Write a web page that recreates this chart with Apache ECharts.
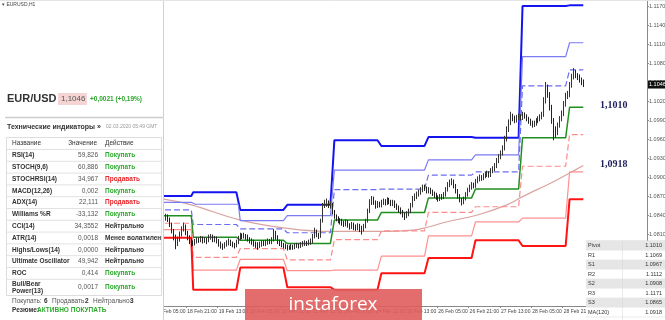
<!DOCTYPE html>
<html><head><meta charset="utf-8">
<script src="https://cdn.jsdelivr.net/npm/echarts@6/dist/echarts.min.js"></script>
<style>html,body{margin:0;padding:0;background:#fff}#c{width:665px;height:320px}</style>
</head><body><div id="c"></div>
<script>
// ---------- DATA ----------
const dayNames = ['18 Feb','19 Feb','20 Feb','21 Feb','24 Feb','25 Feb','26 Feb','27 Feb','28 Feb','2 Mar'];
const dayFirstHour = [5,0,0,0,0,0,0,0,0,0];
const dayLastHour  = [23,23,23,23,23,23,23,23,23,7];
const futureSlots = 32;

// daily pivot levels (one value per day)
const R3 = [1.0870,1.0876,1.0848,1.0856,1.0958,1.0949,1.0963,1.0962,1.1170,1.1171];
const R2 = [1.0860,1.0857,1.0831,1.0839,1.0911,1.0911,1.0927,1.0935,1.1090,1.1112];
const R1 = [1.0848,1.0825,1.0818,1.0812,1.0880,1.0881,1.0903,1.0908,1.1044,1.1069];
const PP = [1.0839,1.0805,1.0800,1.0795,1.0832,1.0844,1.0867,1.0881,1.0962,1.1010];
const S1 = [1.0827,1.0773,1.0787,1.0769,1.0801,1.0815,1.0844,1.0853,1.0917,1.0967];
const S2 = [1.0817,1.0753,1.0770,1.0752,1.0753,1.0775,1.0807,1.0829,1.0835,1.0908];
const S3 = [1.0804,1.0722,1.0757,1.0726,1.0722,1.0748,1.0772,1.0800,1.0791,1.0865];

// MA(120) read at some bars
const maIdx = [4,18,43,67,90,114,131,139,148,164,179,187,203,212,218];
const maVal = [1.0865,1.0856,1.0832,1.0819,1.0814,1.0814,1.0816,1.0821,1.0829,1.0840,1.0856,1.0869,1.0893,1.0908,1.0918];

const yTicks = [1.0720,1.0750,1.0780,1.0810,1.0840,1.0870,1.0900,1.0930,1.0960,1.0990,1.1020,1.1050,1.1080,1.1110,1.1140,1.1170];
const lastPrice = 1.1046;

// candles: [open, close, low, high]
const candles = [
[1.0837,1.0838,1.0833,1.0842],[1.0838,1.0840,1.0835,1.0844],[1.0840,1.0836,1.0832,1.0843],[1.0836,1.0837,1.0832,1.0841],
[1.0837,1.0835,1.0830,1.0840],[1.0835,1.0838,1.0831,1.0842],[1.0838,1.0833,1.0829,1.0841],[1.0833,1.0825,1.0821,1.0836],
[1.0825,1.0815,1.0811,1.0828],[1.0815,1.0806,1.0800,1.0818],[1.0806,1.0795,1.0786,1.0809],[1.0795,1.0802,1.0791,1.0806],
[1.0802,1.0810,1.0798,1.0814],[1.0810,1.0818,1.0806,1.0822],[1.0818,1.0822,1.0814,1.0828],[1.0822,1.0812,1.0808,1.0825],
[1.0812,1.0805,1.0800,1.0815],[1.0805,1.0800,1.0794,1.0808],[1.0800,1.0797,1.0790,1.0803],[1.0797,1.0795,1.0791,1.0800],
[1.0795,1.0798,1.0792,1.0802],[1.0798,1.0801,1.0795,1.0805],[1.0801,1.0800,1.0796,1.0804],[1.0800,1.0803,1.0797,1.0807],
[1.0803,1.0799,1.0795,1.0806],[1.0799,1.0801,1.0796,1.0805],[1.0801,1.0799,1.0794,1.0804],[1.0799,1.0804,1.0797,1.0809],
[1.0804,1.0806,1.0801,1.0810],[1.0806,1.0801,1.0797,1.0809],[1.0801,1.0803,1.0797,1.0807],[1.0803,1.0799,1.0795,1.0806],
[1.0799,1.0795,1.0790,1.0802],[1.0795,1.0792,1.0787,1.0798],[1.0792,1.0790,1.0785,1.0795],[1.0790,1.0793,1.0787,1.0797],
[1.0793,1.0796,1.0790,1.0800],[1.0796,1.0798,1.0792,1.0803],[1.0798,1.0795,1.0791,1.0801],[1.0795,1.0793,1.0789,1.0798],
[1.0793,1.0792,1.0787,1.0796],[1.0792,1.0797,1.0789,1.0801],[1.0797,1.0803,1.0794,1.0807],[1.0803,1.0808,1.0800,1.0812],
[1.0808,1.0806,1.0802,1.0811],[1.0806,1.0808,1.0803,1.0812],[1.0808,1.0806,1.0801,1.0810],[1.0806,1.0802,1.0798,1.0809],
[1.0802,1.0800,1.0795,1.0805],[1.0800,1.0798,1.0793,1.0803],[1.0798,1.0795,1.0790,1.0801],[1.0795,1.0793,1.0788,1.0798],
[1.0793,1.0792,1.0785,1.0797],[1.0792,1.0794,1.0788,1.0798],[1.0794,1.0796,1.0790,1.0800],[1.0796,1.0795,1.0791,1.0800],
[1.0795,1.0797,1.0791,1.0801],[1.0797,1.0799,1.0793,1.0803],[1.0799,1.0798,1.0794,1.0802],[1.0798,1.0800,1.0794,1.0805],
[1.0800,1.0812,1.0798,1.0818],[1.0812,1.0805,1.0801,1.0815],[1.0805,1.0798,1.0794,1.0808],[1.0798,1.0796,1.0791,1.0801],
[1.0796,1.0793,1.0789,1.0799],[1.0793,1.0791,1.0787,1.0796],[1.0791,1.0790,1.0786,1.0795],[1.0790,1.0788,1.0784,1.0793],
[1.0788,1.0789,1.0785,1.0792],[1.0789,1.0790,1.0785,1.0794],[1.0790,1.0789,1.0785,1.0793],[1.0789,1.0791,1.0786,1.0795],
[1.0791,1.0792,1.0788,1.0796],[1.0792,1.0791,1.0787,1.0795],[1.0791,1.0793,1.0788,1.0797],[1.0793,1.0795,1.0790,1.0799],
[1.0795,1.0796,1.0791,1.0800],[1.0796,1.0795,1.0791,1.0799],[1.0795,1.0797,1.0792,1.0801],[1.0797,1.0798,1.0793,1.0803],
[1.0798,1.0806,1.0795,1.0810],[1.0806,1.0815,1.0803,1.0820],[1.0815,1.0809,1.0805,1.0817],[1.0809,1.0806,1.0802,1.0812],
[1.0806,1.0830,1.0804,1.0834],[1.0830,1.0855,1.0828,1.0859],[1.0855,1.0858,1.0851,1.0864],[1.0858,1.0860,1.0853,1.0866],
[1.0860,1.0856,1.0851,1.0863],[1.0856,1.0857,1.0850,1.0862],[1.0857,1.0845,1.0841,1.0859],[1.0845,1.0838,1.0834,1.0848],
[1.0838,1.0835,1.0830,1.0841],[1.0835,1.0832,1.0827,1.0838],[1.0832,1.0830,1.0825,1.0835],[1.0830,1.0828,1.0823,1.0834],
[1.0828,1.0826,1.0821,1.0831],[1.0826,1.0829,1.0822,1.0833],[1.0829,1.0824,1.0820,1.0832],[1.0824,1.0822,1.0817,1.0827],
[1.0822,1.0825,1.0818,1.0829],[1.0825,1.0821,1.0816,1.0828],[1.0821,1.0820,1.0815,1.0825],[1.0820,1.0823,1.0816,1.0827],
[1.0823,1.0819,1.0813,1.0826],[1.0819,1.0818,1.0809,1.0823],[1.0818,1.0822,1.0814,1.0826],[1.0822,1.0830,1.0819,1.0834],
[1.0830,1.0846,1.0828,1.0850],[1.0846,1.0860,1.0843,1.0865],[1.0860,1.0866,1.0856,1.0870],[1.0866,1.0860,1.0856,1.0869],
[1.0860,1.0855,1.0850,1.0863],[1.0855,1.0858,1.0851,1.0862],[1.0858,1.0856,1.0852,1.0861],[1.0856,1.0860,1.0852,1.0864],
[1.0860,1.0862,1.0856,1.0866],[1.0862,1.0859,1.0855,1.0865],[1.0859,1.0864,1.0856,1.0868],[1.0864,1.0861,1.0857,1.0867],
[1.0861,1.0858,1.0854,1.0864],[1.0858,1.0860,1.0854,1.0864],[1.0860,1.0855,1.0851,1.0863],[1.0855,1.0852,1.0848,1.0858],
[1.0852,1.0849,1.0844,1.0855],[1.0849,1.0845,1.0841,1.0852],[1.0845,1.0841,1.0836,1.0848],[1.0841,1.0838,1.0832,1.0844],
[1.0838,1.0842,1.0835,1.0846],[1.0842,1.0846,1.0838,1.0850],[1.0846,1.0855,1.0843,1.0859],[1.0855,1.0866,1.0852,1.0870],
[1.0866,1.0869,1.0862,1.0874],[1.0869,1.0873,1.0865,1.0877],[1.0873,1.0876,1.0869,1.0880],[1.0876,1.0880,1.0872,1.0884],
[1.0880,1.0884,1.0876,1.0888],[1.0884,1.0882,1.0878,1.0888],[1.0882,1.0878,1.0874,1.0885],[1.0878,1.0880,1.0874,1.0884],
[1.0880,1.0877,1.0873,1.0883],[1.0877,1.0874,1.0870,1.0880],[1.0874,1.0872,1.0867,1.0877],[1.0872,1.0868,1.0864,1.0875],
[1.0868,1.0866,1.0861,1.0871],[1.0866,1.0869,1.0862,1.0873],[1.0869,1.0868,1.0864,1.0873],[1.0868,1.0872,1.0865,1.0876],
[1.0872,1.0880,1.0869,1.0884],[1.0880,1.0888,1.0877,1.0892],[1.0888,1.0891,1.0884,1.0896],[1.0891,1.0893,1.0887,1.0898],
[1.0893,1.0886,1.0882,1.0896],[1.0886,1.0878,1.0874,1.0889],[1.0878,1.0870,1.0866,1.0881],[1.0870,1.0864,1.0860,1.0873],
[1.0864,1.0860,1.0855,1.0867],[1.0860,1.0866,1.0857,1.0869],[1.0866,1.0872,1.0863,1.0876],[1.0872,1.0879,1.0869,1.0883],
[1.0879,1.0884,1.0876,1.0888],[1.0884,1.0888,1.0880,1.0892],[1.0888,1.0886,1.0882,1.0891],[1.0886,1.0893,1.0883,1.0897],
[1.0893,1.0897,1.0890,1.0901],[1.0897,1.0900,1.0893,1.0904],[1.0900,1.0898,1.0894,1.0903],[1.0898,1.0902,1.0895,1.0906],
[1.0902,1.0904,1.0898,1.0908],[1.0904,1.0906,1.0900,1.0910],[1.0906,1.0903,1.0899,1.0909],[1.0903,1.0910,1.0900,1.0914],
[1.0910,1.0913,1.0906,1.0917],[1.0913,1.0918,1.0909,1.0922],[1.0918,1.0926,1.0914,1.0930],[1.0926,1.0932,1.0922,1.0936],
[1.0932,1.0938,1.0928,1.0942],[1.0938,1.0945,1.0934,1.0950],[1.0945,1.0960,1.0942,1.0965],[1.0960,1.0975,1.0956,1.0980],
[1.0975,1.0986,1.0971,1.0991],[1.0986,1.0995,1.0982,1.1003],[1.0995,1.0993,1.0988,1.1000],[1.0993,1.0990,1.0985,1.0997],
[1.0990,1.0994,1.0986,1.0998],[1.0994,1.0996,1.0990,1.1000],[1.0996,1.0993,1.0989,1.0999],[1.0993,1.0999,1.0990,1.1003],
[1.0999,1.0996,1.0992,1.1002],[1.0996,1.0992,1.0988,1.0999],[1.0992,1.0989,1.0984,1.0995],[1.0989,1.0986,1.0981,1.0992],
[1.0986,1.0983,1.0978,1.0989],[1.0983,1.0985,1.0979,1.0989],[1.0985,1.0989,1.0981,1.0993],[1.0989,1.0992,1.0985,1.0996],
[1.0992,1.0995,1.0988,1.0999],[1.0995,1.0998,1.0991,1.1003],[1.0998,1.1020,1.0995,1.1026],[1.1020,1.1042,1.1016,1.1050],
[1.1042,1.1030,1.1025,1.1046],[1.1030,1.1010,1.1005,1.1034],[1.1010,1.0990,1.0984,1.1014],[1.0990,1.0975,1.0958,1.0993],
[1.0975,1.0970,1.0962,1.0980],[1.0970,1.0982,1.0966,1.0986],[1.0982,1.0992,1.0978,1.0996],[1.0992,1.1000,1.0988,1.1005],
[1.1000,1.1015,1.0996,1.1020],[1.1015,1.1028,1.1011,1.1033],[1.1028,1.1030,1.1023,1.1036],[1.1030,1.1045,1.1026,1.1050],
[1.1045,1.1058,1.1041,1.1063],[1.1058,1.1066,1.1054,1.1072],[1.1066,1.1060,1.1056,1.1069],[1.1060,1.1058,1.1053,1.1064],
[1.1058,1.1053,1.1049,1.1062],[1.1053,1.1050,1.1045,1.1057],[1.1050,1.1046,1.1042,1.1054]
];

const indicatorRows = [
 ['RSI(14)','59,826','Покупать'],
 ['STOCH(9,6)','60,886','Покупать'],
 ['STOCHRSI(14)','34,967','Продавать'],
 ['MACD(12,26)','0,002','Покупать'],
 ['ADX(14)','22,111','Продавать'],
 ['Williams %R','-33,132','Покупать'],
 ['CCI(14)','34,3552','Нейтрально'],
 ['ATR(14)','0,0018','Менее волатилен'],
 ['Highs/Lows(14)','0,0000','Нейтрально'],
 ['Ultimate Oscillator','49,942','Нейтрально'],
 ['ROC','0,414','Покупать'],
 ['Bull/Bear\nPower(13)','0,0017','Покупать']
];
const pivotRows = [['Pivot','1.1010'],['R1','1.1069'],['S1','1.0967'],['R2','1.1112'],['S2','1.0908'],['R3','1.1171'],['S3','1.0865'],['MA(120)','1.0918']];

// ---------- BUILD ----------
const cats = [], dayOf = [];
const pad = n => (n < 10 ? '0' : '') + n;
dayNames.forEach((d, k) => {
  for (let h = dayFirstHour[k]; h <= dayLastHour[k]; h++) { cats.push(d + ' ' + pad(h) + ':00'); dayOf.push(k); }
});
const nBars = cats.length;
for (let i = 0; i < futureSlots; i++) cats.push('');
const expand = lv => dayOf.map(k => lv[k]);

const chart = echarts.init(document.getElementById('c'), null, {renderer: 'canvas'});
const F = 'Liberation Sans, Arial, sans-serif';
const Z = 100;

function lvl(name, arr, color, width, type) {
  return {name, type: 'line', data: expand(arr), showSymbol: false, silent: true, animation: false, z: 3,
    lineStyle: {color, width, type: type || 'solid'}};
}

const yMax = 1.11779, yMin = 1.06963;

const option = {
  animation: false,
  backgroundColor: '#fff',
  grid: {left: 155, right: 18, top: 1, bottom: 14, containLabel: false, outerBoundsMode: 'none'},
  xAxis: {
    type: 'category', data: cats, boundaryGap: true,
    axisLine: {show: true, lineStyle: {color: '#888', width: 1}},
    axisTick: {show: true, interval: (i) => i % 16 === 0 && i < nBars, length: 2, lineStyle: {color: '#888'}},
    axisLabel: {interval: (i) => i % 16 === 0 && i < nBars, fontSize: 5, color: '#444', fontFamily: F, align: 'left', margin: 3, hideOverlap: false},
    splitLine: {show: false}
  },
  yAxis: {
    type: 'value', position: 'right', min: yMin, max: yMax, scale: true,
    axisLine: {show: true, lineStyle: {color: '#888', width: 1}},
    axisTick: {show: true, length: 2, customValues: yTicks, lineStyle: {color: '#888'}},
    axisLabel: {customValues: yTicks, fontSize: 5.5, color: '#555', fontFamily: F, margin: 2, formatter: v => v.toFixed(4)},
    splitLine: {show: false}
  },
  series: [
    lvl('R3', R3, '#1414f0', 2),
    lvl('R2', R2, '#7b7bf2', 1.2),
    lvl('R1', R1, '#6c6cf0', 1.2, [6, 3]),
    lvl('Pivot', PP, '#1f8f1f', 1.5),
    lvl('S1', S1, '#ff8a8a', 1.2, [6, 3]),
    lvl('S2', S2, '#ff9090', 1.2),
    lvl('S3', S3, '#ff1414', 2),
    {name: 'MA(120)', type: 'line', data: maIdx.map((ix, k) => [ix, maVal[k]]), smooth: 0.4, showSymbol: false, silent: true, z: 2,
      lineStyle: {color: '#d9a3a0', width: 1.2}},
    {name: 'EURUSD', type: 'candlestick', data: candles, barMaxWidth: 1.4, silent: true, z: 4,
      itemStyle: {color: '#ffffff', color0: '#222222', borderColor: '#333333', borderColor0: '#222222', borderWidth: 1}}
  ],
  graphic: {elements: []}
};
chart.setOption(option);

// ---------- OVERLAYS ----------
const els = [];
const T = (x, y, text, st) => els.push({type: 'text', x, y, z: Z, silent: true,
  style: Object.assign({text, fill: '#333', font: '7px ' + F, verticalAlign: 'middle', align: 'left'}, st || {})});
const Rc = (x, y, w, h, fill, stroke) => els.push({type: 'rect', z: Z, silent: true, shape: {x, y, width: w, height: h},
  style: {fill: fill || 'none', stroke: stroke || null, lineWidth: 1}});
const Ln = (x1, y1, x2, y2, c, w) => els.push({type: 'line', z: Z, silent: true, shape: {x1, y1, x2, y2}, style: {stroke: c, lineWidth: w || 1}});

// left panel
Rc(0, 0, 163, 320, '#ffffff');
Ln(163.5, 0, 163.5, 320, '#d0d0d0', 1);
Ln(0, 0.5, 665, 0.5, '#e4e4e4', 1);
T(2, 5, '▾ EURUSD,H1', {font: '5px ' + F, fill: '#444'});
T(7, 99, 'EUR/USD', {font: 'bold 11px ' + F, fill: '#333'});
Rc(58, 93, 29, 12, '#f6d4d4');
T(61, 99, '1,1046', {font: '8px ' + F, fill: '#555'});
T(90, 99, '+0,0021 (+0,19%)', {font: 'bold 6.5px ' + F, fill: '#2aa52a'});
Ln(5, 117.5, 163, 117.5, '#cccccc', 1.5);
T(7, 127, 'Технические индикаторы »', {font: 'bold 7px ' + F, fill: '#333'});
T(106, 127, '02.03.2020 05:49 GMT', {font: '5px ' + F, fill: '#999'});
// table
Rc(6.5, 137.5, 155, 158, '#fff', '#dddddd');
T(12, 143, 'Название', {font: '6.5px ' + F, fill: '#333'});
T(97, 143, 'Значение', {font: '6.5px ' + F, fill: '#333', align: 'right'});
T(105, 143, 'Действие', {font: '6.5px ' + F, fill: '#333'});
const actColor = a => a === 'Покупать' ? '#2bab2b' : (a === 'Продавать' ? '#e8262b' : '#333');
indicatorRows.forEach((r, i) => {
  const top = 149.5 + 11.8 * i;
  Ln(7, top, 161, top, '#e2e2e2', 1);
  const cy = i < 11 ? top + 6 : top + 8;
  if (r[0].indexOf('\n') >= 0) {
    const p = r[0].split('\n');
    T(12, cy - 3.5, p[0], {font: 'bold 6.5px ' + F});
    T(12, cy + 3.5, p[1], {font: 'bold 6.5px ' + F});
  } else T(12, cy, r[0], {font: 'bold 6.5px ' + F});
  T(98, cy, r[1], {font: '6.5px ' + F, fill: '#555', align: 'right'});
  T(105, cy, r[2], {font: 'bold 6.5px ' + F, fill: actColor(r[2])});
});
T(12, 301, 'Покупать:', {font: '6.5px ' + F, fill: '#555'});
T(44, 301, '6', {font: 'bold 6.5px ' + F, fill: '#333'});
T(52, 301, 'Продавать:', {font: '6.5px ' + F, fill: '#555'});
T(85, 301, '2', {font: 'bold 6.5px ' + F, fill: '#333'});
T(93, 301, 'Нейтрально:', {font: '6.5px ' + F, fill: '#555'});
T(130, 301, '3', {font: 'bold 6.5px ' + F, fill: '#333'});
T(12, 310, 'Резюме:', {font: 'bold 6.5px ' + F, fill: '#333'});
T(37, 310, 'АКТИВНО ПОКУПАТЬ', {font: 'bold 6.5px ' + F, fill: '#2bab2b'});

// pivot table bottom right
pivotRows.forEach((r, i) => {
  const top = 241 + 9.5 * i;
  Rc(586, top, 79, 9.5, i % 2 === 0 ? '#e6e6e6' : '#ffffff');
  Ln(586, top + 9.5, 665, top + 9.5, '#d6d6d6', 0.5);
  T(588, top + 4.9, r[0], {font: '5.5px ' + F, fill: '#333'});
  T(662, top + 4.9, r[1], {font: '5.5px ' + F, fill: '#333', align: 'right'});
});
Ln(622.5, 241, 622.5, 320, '#d6d6d6', 0.5);
Ln(586, 240.5, 665, 240.5, '#d6d6d6', 0.5);

// watermark
Rc(245, 289, 177, 31, 'rgba(224,92,92,0.9)');
T(333, 305, 'instaforex', {font: '19px Open Sans, ' + F, fill: '#ffffff', align: 'center'});

// value-based annotations
const py = v => chart.convertToPixel({yAxisIndex: 0}, v);
T(600, py(PP[PP.length - 1]) - 2, '1,1010', {font: 'bold 10px Liberation Serif, serif', fill: '#1f1f5c'});
T(600, py(maVal[maVal.length - 1]) - 1, '1,0918', {font: 'bold 10px Liberation Serif, serif', fill: '#1f1f5c'});
const lp = py(lastPrice);
Rc(648, lp - 4, 17, 8, '#111111');
T(649, lp, lastPrice.toFixed(4), {font: '5.5px ' + F, fill: '#ffffff'});

chart.setOption({graphic: {elements: els}});
</script></body></html>
